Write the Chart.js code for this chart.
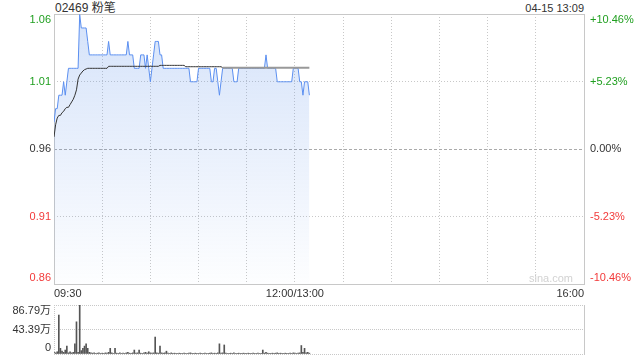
<!DOCTYPE html>
<html>
<head>
<meta charset="utf-8">
<title>02469 粉笔</title>
<script src="https://cdn.jsdelivr.net/npm/chart.js@4.4.1/dist/chart.umd.min.js"></script>
<style>
  html, body { margin: 0; padding: 0; background: #fff; }
  body { width: 640px; height: 360px; position: relative; overflow: hidden;
         font-family: 'Liberation Sans', Arial, 'Noto Sans CJK SC', sans-serif; }
  #title { position: absolute; left: 55px; top: 0; font-size: 12px; line-height: 16px; color: #333; }
  #stamp { position: absolute; right: 56px; top: 0; font-size: 11px; line-height: 16px; color: #333; }
  #main { position: absolute; left: 0; top: 0; }
  #vol { position: absolute; left: 0; top: 300px; }
</style>
</head>
<body>
<div id="title">02469 粉笔</div>
<div id="stamp">04-15 13:09</div>
<canvas id="main" width="640" height="300"></canvas>
<canvas id="vol" width="640" height="60"></canvas>
<script>
// 昨收
const prevClose = 0.96;

// x 轴: 分钟序号 (09:30 = 0, 12:00/13:00 = 150, 16:00 = 330)
const gridMinutes = [0, 30, 60, 90, 120, 150, 180, 210, 240, 270, 300, 330];
const xLabelMinutes = [0, 150, 330];
const xLabels = ['09:30', '12:00/13:00', '16:00'];

// y 轴刻度
const priceTicks = [1.0604, 1.0102, 0.96, 0.9098, 0.8596];
const priceLabels = ['1.06', '1.01', '0.96', '0.91', '0.86'];
const pctLabels = ['+10.46%', '+5.23%', '0.00%', '-5.23%', '-10.46%'];
const volTicks = [86.79, 43.395, 0];
const volLabels = ['86.79万', '43.39万', '0'];

// 分时价格 (09:30 - 13:09)
const price = [
  0.98, 0.99, 0.99, 1.00, 1.00, 1.00, 1.01, 1.00, 1.01, 1.02,
  1.02, 1.02, 1.02, 1.02, 1.02, 1.02, 1.06, 1.05, 1.05, 1.05,
  1.05, 1.04, 1.03, 1.03, 1.03, 1.03, 1.03, 1.03, 1.03, 1.03,
  1.03, 1.03, 1.03, 1.03, 1.04, 1.03, 1.03, 1.03, 1.03, 1.03,
  1.03, 1.03, 1.03, 1.03, 1.03, 1.03, 1.04, 1.03, 1.03, 1.03,
  1.02, 1.02, 1.02, 1.02, 1.03, 1.03, 1.03, 1.02, 1.03, 1.02,
  1.01, 1.02, 1.03, 1.04, 1.04, 1.04, 1.03, 1.03, 1.02, 1.02,
  1.02, 1.02, 1.02, 1.02, 1.02, 1.02, 1.02, 1.02, 1.02, 1.02,
  1.02, 1.02, 1.02, 1.02, 1.02, 1.01, 1.01, 1.01, 1.01, 1.01,
  1.02, 1.02, 1.02, 1.02, 1.02, 1.02, 1.02, 1.02, 1.01, 1.01,
  1.02, 1.02, 1.01, 1.00, 1.01, 1.02, 1.02, 1.02, 1.02, 1.02,
  1.02, 1.02, 1.01, 1.01, 1.01, 1.02, 1.02, 1.02, 1.02, 1.02,
  1.02, 1.02, 1.02, 1.02, 1.02, 1.02, 1.02, 1.02, 1.02, 1.02,
  1.02, 1.02, 1.03, 1.02, 1.02, 1.02, 1.02, 1.02, 1.02, 1.01,
  1.01, 1.01, 1.01, 1.01, 1.01, 1.01, 1.01, 1.01, 1.01, 1.02,
  1.02, 1.02, 1.02, 1.01, 1.01, 1.00, 1.01, 1.01, 1.01, 1.00
];

// 均价
const avgPrice = [
  0.969, 0.978, 0.983, 0.985, 0.985, 0.987, 0.988, 0.990, 0.991, 0.991,
  0.993, 0.995, 0.997, 1.000, 1.004, 1.012, 1.015, 1.0165, 1.018, 1.019,
  1.0195, 1.020, 1.020, 1.020, 1.020, 1.020, 1.020, 1.020, 1.020, 1.020,
  1.020, 1.020, 1.020, 1.020, 1.0215, 1.0215, 1.0215, 1.0215, 1.0215, 1.0215,
  1.0215, 1.0215, 1.0215, 1.0215, 1.0215, 1.0215, 1.0215, 1.0215, 1.0215, 1.0215,
  1.0215, 1.0215, 1.0215, 1.0215, 1.0215, 1.0215, 1.0215, 1.0215, 1.0215, 1.0215,
  1.0215, 1.0215, 1.0215, 1.0215, 1.0215, 1.0215, 1.0222, 1.0222, 1.0222, 1.0222,
  1.0222, 1.0222, 1.0222, 1.0222, 1.0222, 1.0222, 1.0222, 1.0222, 1.0222, 1.0222,
  1.0222, 1.0222, 1.0212, 1.0212, 1.0212, 1.0212, 1.0212, 1.0212, 1.0212, 1.0212,
  1.0212, 1.0212, 1.0212, 1.0212, 1.0212, 1.0212, 1.0212, 1.0212, 1.0212, 1.0212,
  1.0212, 1.0212, 1.0212, 1.0212, 1.0212, 1.0205, 1.0205, 1.0205, 1.0205, 1.0205,
  1.0205, 1.0205, 1.0205, 1.0205, 1.0205, 1.0205, 1.0205, 1.0205, 1.0205, 1.0205,
  1.0205, 1.0205, 1.0205, 1.0205, 1.0205, 1.0205, 1.0205, 1.0205, 1.0205, 1.0205,
  1.0205, 1.0205, 1.0205, 1.0205, 1.0205, 1.0205, 1.0205, 1.0205, 1.0205, 1.0205,
  1.0205, 1.0205, 1.0205, 1.0205, 1.0205, 1.0205, 1.0205, 1.0205, 1.0205, 1.0205,
  1.0205, 1.0205, 1.0205, 1.0205, 1.0205, 1.0205, 1.0205, 1.0205, 1.0205, 1.0205
];

// 成交量 (万)
const volume = [
  3, 2, 4, 69, 10, 5, 3, 7, 14, 2,
  4, 2, 3, 18, 57, 3, 86.79, 6, 10, 14,
  18, 10, 3, 2, 1.5, 2, 1, 1.5, 2, 1,
  1.5, 1, 2, 1.5, 3, 10, 2, 1, 10, 1.5,
  1, 2, 1, 1.5, 1, 2, 3, 1.5, 1, 2,
  7, 1.5, 2, 7, 1.5, 1, 2, 3, 1.5, 4,
  2, 1.5, 2, 30, 2, 1.5, 14, 2, 1.5, 2,
  5, 1.5, 1, 2, 1, 1.5, 1, 1, 1.5, 1,
  1, 1.5, 1, 1, 1.5, 2, 1, 1, 1.5, 1,
  1, 1.5, 1, 1, 1.5, 1, 1, 1.5, 2, 1,
  1.5, 1, 2, 18, 1.5, 2, 16, 1.5, 1, 1,
  1.5, 1, 2, 1, 1, 1.5, 1, 1, 1.5, 1,
  1, 1.5, 1, 1, 1.5, 1, 1, 1.5, 1, 1,
  7, 1.5, 3, 1.5, 1, 1, 1.5, 1, 1.5, 2,
  1, 1.5, 1, 1, 1.5, 1, 1, 1.5, 1, 2,
  1.5, 1, 1.5, 2, 15, 3, 10, 2, 3, 1.5
];

const FONT = "'Liberation Sans', Arial, 'Noto Sans CJK SC', sans-serif";
const GREEN = '#1f9f1f';
const RED = '#f23a3a';
const GRID = '#c8c8c8';

Chart.defaults.font.family = FONT;
Chart.defaults.font.size = 11;
Chart.defaults.color = '#333';

// 均价线后段变灰
const avgGreyFrom = 105;

// 边框、昨收线、价格/涨跌幅标签
const mainDecor = {
  id: 'mainDecor',
  beforeDatasetsDraw(chart) {
    const { ctx, chartArea: a, scales: { y } } = chart;
    ctx.save();
    const y0 = Math.round(y.getPixelForValue(prevClose)) + 0.5;
    ctx.strokeStyle = '#aaa';
    ctx.lineWidth = 1;
    ctx.setLineDash([3, 2]);
    ctx.beginPath();
    ctx.moveTo(a.left, y0);
    ctx.lineTo(a.right, y0);
    ctx.stroke();
    ctx.setLineDash([]);
    ctx.strokeStyle = GRID;
    ctx.strokeRect(Math.round(a.left) + 0.5, Math.round(a.top) + 0.5,
      Math.round(a.right - a.left), Math.round(a.bottom - a.top));
    ctx.restore();
  },
  afterDraw(chart) {
    const { ctx, chartArea: a, scales: { y } } = chart;
    ctx.save();
    ctx.font = '11px ' + FONT;
    ctx.textBaseline = 'middle';
    priceTicks.forEach((v, i) => {
      let py = y.getPixelForValue(v);
      if (i === 0) py += 6;
      if (i === priceTicks.length - 1) py -= 6;
      ctx.fillStyle = v > prevClose + 1e-6 ? GREEN : (v < prevClose - 1e-6 ? RED : '#333');
      ctx.textAlign = 'right';
      ctx.fillText(priceLabels[i], a.left - 3, py);
      ctx.textAlign = 'left';
      ctx.fillText(pctLabels[i], a.right + 6, py);
    });
    ctx.fillStyle = '#d2d2d2';
    ctx.textAlign = 'right';
    ctx.fillText('sina.com', a.right - 11, a.bottom - 5);
    ctx.restore();
  }
};

new Chart(document.getElementById('main'), {
  type: 'line',
  data: {
    datasets: [
      {
        label: '均价',
        data: avgPrice.map((v, i) => ({ x: i, y: v })),
        borderColor: '#333',
        borderWidth: 1,
        pointRadius: 0,
        fill: false,
        segment: {
          borderColor: c => c.p0DataIndex >= avgGreyFrom ? '#999' : undefined,
          borderWidth: c => c.p0DataIndex >= avgGreyFrom ? 2 : undefined
        }
      },
      {
        label: '价格',
        data: price.map((v, i) => ({ x: i, y: v })),
        borderColor: '#5b8ff0',
        borderWidth: 1,
        pointRadius: 0,
        fill: 'start',
        backgroundColor: (c) => {
          const { ctx, chartArea } = c.chart;
          if (!chartArea) return 'rgba(100,150,235,0.2)';
          const g = ctx.createLinearGradient(0, chartArea.top, 0, chartArea.bottom);
          g.addColorStop(0, 'rgba(100,150,235,0.27)');
          g.addColorStop(1, 'rgba(100,150,235,0.01)');
          return g;
        }
      }
    ]
  },
  options: {
    responsive: false,
    animation: false,
    layout: { padding: { top: 14, left: 0, right: 0, bottom: 0 } },
    plugins: { legend: { display: false }, tooltip: { enabled: false } },
    scales: {
      x: {
        type: 'linear',
        min: 0,
        max: 330,
        afterBuildTicks: s => { s.ticks = gridMinutes.map(v => ({ value: v })); },
        afterFit: s => { s.height = 16; },
        ticks: {
          autoSkip: false,
          maxRotation: 0,
          align: 'inner',
          padding: 3,
          color: '#333',
          callback: v => {
            const k = xLabelMinutes.indexOf(v);
            return k >= 0 ? xLabels[k] : '';
          }
        },
        grid: { color: GRID, drawTicks: false },
        border: { display: false, dash: [1, 2] }
      },
      y: {
        min: 0.8596,
        max: 1.0604,
        afterBuildTicks: s => { s.ticks = priceTicks.map(v => ({ value: v })); },
        afterFit: s => { s.width = 54; },
        ticks: { display: false },
        grid: {
          color: c => (c.tick && Math.abs(c.tick.value - prevClose) < 1e-6) ? 'rgba(0,0,0,0)' : GRID,
          drawTicks: false
        },
        border: { display: false, dash: [1, 2] }
      },
      y2: {
        position: 'right',
        min: 0.8596,
        max: 1.0604,
        afterFit: s => { s.width = 56; },
        ticks: { display: false },
        grid: { display: false },
        border: { display: false }
      }
    }
  },
  plugins: [mainDecor]
});

// 成交量
const volDecor = {
  id: 'volDecor',
  afterDraw(chart) {
    const { ctx, chartArea: a, scales: { y } } = chart;
    ctx.save();
    ctx.strokeStyle = GRID;
    ctx.lineWidth = 1;
    const xr = Math.round(a.right) + 0.5;
    ctx.beginPath();
    ctx.moveTo(xr, a.top);
    ctx.lineTo(xr, a.bottom + 1);
    ctx.stroke();
    ctx.setLineDash([1, 1]);
    const xl = Math.round(a.left) + 0.5;
    ctx.beginPath();
    ctx.moveTo(xl, a.top);
    ctx.lineTo(xl, a.bottom);
    ctx.stroke();
    ctx.setLineDash([]);
    ctx.font = '11px ' + FONT;
    ctx.fillStyle = '#333';
    ctx.textAlign = 'right';
    ctx.textBaseline = 'middle';
    volTicks.forEach((v, i) => {
      let py = y.getPixelForValue(v);
      if (i === 0) py += 5.5;
      if (i === volTicks.length - 1) py -= 6;
      ctx.fillText(volLabels[i], a.left - 3, py);
    });
    ctx.restore();
  }
};

new Chart(document.getElementById('vol'), {
  type: 'bar',
  data: {
    datasets: [{
      label: '成交量',
      data: volume.map((v, i) => ({ x: i, y: v })),
      backgroundColor: '#555',
      barThickness: 1
    }]
  },
  options: {
    responsive: false,
    animation: false,
    layout: { padding: { top: 5, left: 0, right: 56, bottom: 6 } },
    plugins: { legend: { display: false }, tooltip: { enabled: false } },
    scales: {
      x: {
        type: 'linear',
        min: 0,
        max: 330,
        offset: false,
        display: false,
        grid: { offset: false }
      },
      y: {
        min: 0,
        max: 86.79,
        afterBuildTicks: s => { s.ticks = volTicks.map(v => ({ value: v })); },
        afterFit: s => { s.width = 54; },
        ticks: { display: false },
        grid: { color: GRID, drawTicks: false },
        border: { display: false, dash: [1, 1] }
      }
    }
  },
  plugins: [volDecor]
});
</script>
</body>
</html>
